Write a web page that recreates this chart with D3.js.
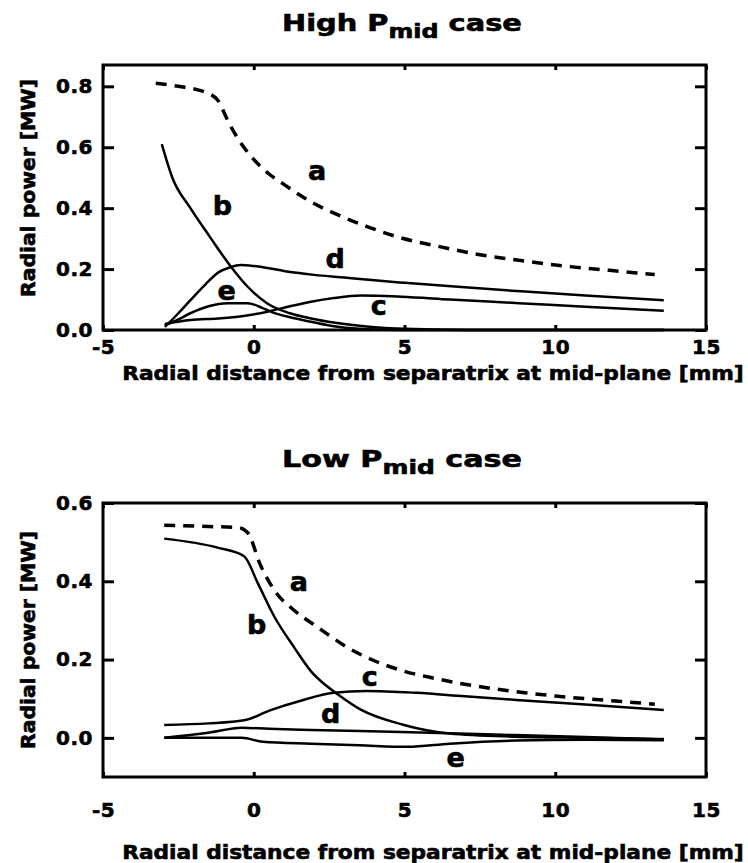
<!DOCTYPE html>
<html>
<head>
<meta charset="utf-8">
<script src="https://cdn.jsdelivr.net/npm/d3@7"></script>
<style>
  body { margin: 0; background: #fff; }
  text { font-family: "DejaVu Sans", Arial, sans-serif; font-weight: bold; fill: #000; stroke: #000; stroke-width: 0.6px; }
</style>
</head>
<body>
<svg width="748" height="863"></svg>
<script>
// x tick values shared by both panels (mm)
var xTicks = [-5, 0, 5, 10, 15];
var highYTicks = [0, 0.2, 0.4, 0.6, 0.8];
var lowYTicks = [0, 0.2, 0.4, 0.6];

// High P_mid case, [x mm, power MW]
var highA = [[-3.25,0.81],[-2.5,0.80],[-1.6,0.78],[-1.2,0.755],[-0.8,0.675],[-0.4,0.61],[0,0.56],[0.5,0.513],[1,0.478],[1.5,0.445],[2,0.415],[2.7,0.382],[3.8,0.338],[4.9,0.302],[6.2,0.273],[7.5,0.247],[8.8,0.229],[10.3,0.21],[11.8,0.196],[13.3,0.182]];
var highB = [[-3.05,0.61],[-2.7,0.50],[-2.1,0.40],[-1.45,0.305],[-0.75,0.207],[-0.2,0.142],[0.45,0.087],[1.2,0.055],[1.9,0.038],[2.7,0.024],[3.5,0.014],[4.5,0.006],[6,0.002],[8,0],[13.6,0]];
var highC = [[-2.95,0.02],[-2.1,0.033],[-1.2,0.038],[-0.4,0.045],[0.45,0.06],[1.2,0.078],[1.9,0.093],[2.66,0.105],[3.55,0.113],[4.9,0.109],[6.5,0.1],[8.8,0.088],[11,0.076],[13.6,0.063]];
var highD = [[-2.95,0.01],[-2.5,0.055],[-2.1,0.098],[-1.6,0.15],[-1.16,0.19],[-0.8,0.205],[-0.43,0.213],[0,0.21],[0.5,0.203],[1,0.194],[1.5,0.187],[2,0.181],[3,0.172],[4,0.163],[5,0.155],[7,0.14],[9,0.126],[11,0.113],[13.6,0.098]];
var highE = [[-2.95,0.015],[-2.5,0.035],[-2.1,0.055],[-1.5,0.078],[-0.87,0.088],[-0.2,0.088],[0.3,0.072],[0.67,0.056],[1.2,0.042],[1.9,0.027],[2.66,0.012],[3.5,0.004],[5,0],[13.6,0]];
var highLabels = [["a",2.1,0.525],["b",-1.04,0.41],["d",2.7,0.236],["e",-0.9,0.131],["c",4.15,0.079]];

// Low P_mid case
var lowA = [[-2.97,0.543],[-1.5,0.54],[-0.5,0.537],[-0.2,0.524],[0.23,0.44],[0.5,0.40],[0.8,0.365],[1.2,0.335],[1.6,0.31],[2,0.289],[2.5,0.262],[3,0.236],[4,0.197],[5,0.17],[6,0.152],[7,0.137],[8,0.125],[9,0.115],[10,0.107],[11,0.1],[12,0.094],[13.3,0.086]];
var lowB = [[-2.97,0.509],[-1.2,0.486],[-0.32,0.464],[0.13,0.396],[0.68,0.31],[1.35,0.23],[1.9,0.17],[2.3,0.14],[2.77,0.112],[3.55,0.072],[4.98,0.033],[6.5,0.011],[8.7,0.003],[11,0],[13.6,-0.003]];
var lowC = [[-2.97,0.033],[-1.5,0.037],[-0.32,0.045],[0.56,0.071],[1.56,0.095],[2.65,0.115],[3.75,0.12],[5.4,0.115],[7,0.106],[8.7,0.097],[11,0.085],[13.6,0.071]];
var lowD = [[-2.97,0.0],[-1.5,0.013],[-0.4,0.026],[0.5,0.023],[1.9,0.02],[4.9,0.015],[8.7,0.007],[11,0.002],[13.6,-0.004]];
var lowE = [[-2.97,0.0],[-1.5,0.0],[-0.4,0.0],[0.3,-0.01],[1.9,-0.015],[3.5,-0.019],[5.1,-0.023],[6.5,-0.015],[8.7,-0.007],[11,-0.005],[13.6,-0.006]];
var lowLabels = [["a",1.5,0.40],["b",0.1,0.289],["c",3.85,0.156],["d",2.55,0.063],["e",6.7,-0.049]];

var svg = d3.select("svg");
svg.append("rect").attr("width", 748).attr("height", 863).attr("fill", "#fff");

// stretch a text horizontally to a target width (the original font is very wide)
function fitWidth(sel, target, cx, cy, rot) {
  var w = sel.node().getComputedTextLength();
  var k = target / w;
  sel.attr("x", 0).attr("y", 0)
     .attr("transform", "translate(" + cx + "," + cy + ")" + (rot ? " rotate(" + rot + ")" : "") + " scale(" + k + ",1)");
}

function panel(p) {
  var x = d3.scaleLinear().domain([-5, 15]).range([103, 706]);
  var y = d3.scaleLinear().domain(p.yDomain).range([p.bottom, p.top]);
  var g = svg.append("g");

  // title with subscript
  var t = g.append("text").attr("text-anchor", "middle").style("font-size", "23px");
  t.append("tspan").text(p.title[0]);
  t.append("tspan").attr("dy", 7).style("font-size", "19px").text("mid");
  t.append("tspan").attr("dy", -7).text(" case");
  fitWidth(t, 240, 402, p.titleY);

  // inward ticks on all four sides
  var fmtX = function(d) { return String(d); };
  g.append("g").attr("transform", "translate(0," + p.bottom + ")")
    .call(d3.axisBottom(x).tickValues(xTicks).tickSize(-5).tickPadding(p.xPad).tickFormat(fmtX));
  g.append("g").attr("transform", "translate(0," + p.top + ")")
    .call(d3.axisTop(x).tickValues(xTicks).tickSize(-5).tickFormat(""));
  g.append("g").attr("transform", "translate(103,0)")
    .call(d3.axisLeft(y).tickValues(p.yTicks).tickSize(-11).tickPadding(10).tickFormat(d3.format(".1f")));
  g.append("g").attr("transform", "translate(706,0)")
    .call(d3.axisRight(y).tickValues(p.yTicks).tickSize(-11).tickFormat(""));
  g.selectAll(".domain").remove();
  g.selectAll(".tick line").attr("stroke", "#000").attr("stroke-width", 3);
  g.selectAll(".tick text").style("font-size", "20px").attr("font-family", null)
    .attr("letter-spacing", "0.5px");

  // plot frame
  g.append("rect").attr("x", 103).attr("y", p.top).attr("width", 603).attr("height", p.bottom - p.top)
    .attr("fill", "none").attr("stroke", "#000").attr("stroke-width", 3);

  var line = d3.line().x(function(d) { return x(d[0]); }).y(function(d) { return y(d[1]); })
    .curve(d3.curveMonotoneX);
  p.series.forEach(function(s, i) {
    g.append("path").attr("d", line(s)).attr("fill", "none").attr("stroke", "#000")
      .attr("stroke-width", i == 0 ? 3.5 : 2.5)
      .attr("stroke-dasharray", i == 0 ? "11,8" : null)
      .attr("stroke-linejoin", "round");
  });

  g.selectAll(".lbl").data(p.labels).enter().append("text")
    .attr("class", "lbl")
    .attr("x", function(d) { return x(d[1]); })
    .attr("y", function(d) { return y(d[2]); })
    .attr("text-anchor", "middle").attr("dominant-baseline", "central")
    .style("font-size", "27px")
    .text(function(d) { return d[0]; });

  var yl = g.append("text").attr("text-anchor", "middle").attr("dominant-baseline", "central")
    .style("font-size", "19px").text("Radial power [MW]");
  fitWidth(yl, 218, 29, p.yLabelY, -90);

  var xl = g.append("text").attr("text-anchor", "middle").style("font-size", "19px")
    .text("Radial distance from separatrix at mid-plane [mm]");
  fitWidth(xl, 622, 433, p.xLabelY);
}

panel({ title: ["High P"], titleY: 31, top: 65, bottom: 330, yDomain: [0, 0.87],
  yTicks: highYTicks, xPad: 10, yLabelY: 188, xLabelY: 380,
  series: [highA, highB, highC, highD, highE], labels: highLabels });
panel({ title: ["Low P"], titleY: 467, top: 503, bottom: 777, yDomain: [-0.1, 0.6],
  yTicks: lowYTicks, xPad: 26, yLabelY: 640, xLabelY: 859,
  series: [lowA, lowB, lowC, lowD, lowE], labels: lowLabels });
</script>
</body>
</html>
